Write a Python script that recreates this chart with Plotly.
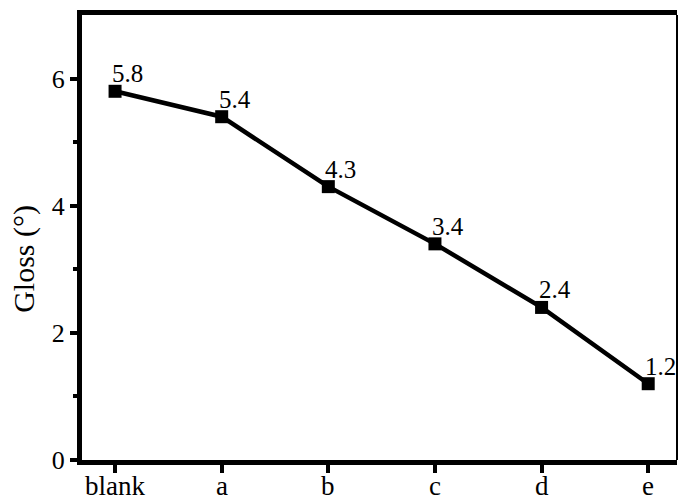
import plotly.graph_objects as go

categories = ["blank", "a", "b", "c", "d", "e"]
gloss = [5.8, 5.4, 4.3, 3.4, 2.4, 1.2]
y_ticks = [0, 2, 4, 6]
minor_ticks = [1, 3, 5]
y_title = "Gloss (°)"

xs = list(range(len(categories)))
FONT = "Liberation Serif, Times New Roman, serif"

fig = go.Figure()
fig.add_trace(go.Scatter(
    x=xs, y=gloss, mode="lines+markers",
    line=dict(color="black", width=4.5),
    marker=dict(symbol="square", size=13, color="black"),
    showlegend=False, hoverinfo="skip",
))

for xv, yv in zip(xs, gloss):
    fig.add_annotation(x=xv, y=yv, text=f"{yv}", showarrow=False,
                       xanchor="left", yanchor="bottom", xshift=-5, yshift=2,
                       font=dict(family=FONT, size=25, color="black"))

# category labels along the x axis
for xv, lab in zip(xs, categories):
    fig.add_annotation(x=xv, y=0, xref="x", yref="paper", text=lab, showarrow=False,
                       xanchor="center", yanchor="top", yshift=-9,
                       font=dict(family=FONT, size=27, color="black"))

fig.add_annotation(x=0, y=0.452, xref="paper", yref="paper", text=y_title,
                   textangle=-90, showarrow=False, xanchor="center", yanchor="middle",
                   xshift=-58, font=dict(family=FONT, size=30, color="black"))

fig.update_layout(
    width=678, height=499,
    margin=dict(l=82, r=1, t=15, b=39, pad=0),
    paper_bgcolor="white", plot_bgcolor="white",
    font=dict(family=FONT, size=26, color="black"),
    xaxis=dict(
        range=[-0.31, 5.27], tickmode="array", tickvals=xs, showticklabels=False,
        showgrid=False, zeroline=False, showline=True, linecolor="black",
        linewidth=5, mirror=True, ticks="outside", ticklen=8, tickwidth=4,
        tickcolor="black", automargin=False,
    ),
    yaxis=dict(
        range=[0, 7], tickmode="array", tickvals=y_ticks,
        showgrid=False, zeroline=False, showline=True, linecolor="black",
        linewidth=5, ticks="outside", ticklen=7, tickwidth=4, tickcolor="black",
        tickfont=dict(family=FONT, size=26), automargin=False,
        minor=dict(ticks="outside", ticklen=4, tickwidth=4, tickcolor="black",
                   tickvals=minor_ticks, showgrid=False),
    ),
)
fig.add_shape(type="line", xref="paper", yref="paper", x0=1, x1=1, y0=0, y1=1,
              line=dict(color="black", width=2))

fig.write_html("out.html", config={"displayModeBar": False},
               post_script="document.body.style.margin='0';document.body.style.overflow='hidden';")
